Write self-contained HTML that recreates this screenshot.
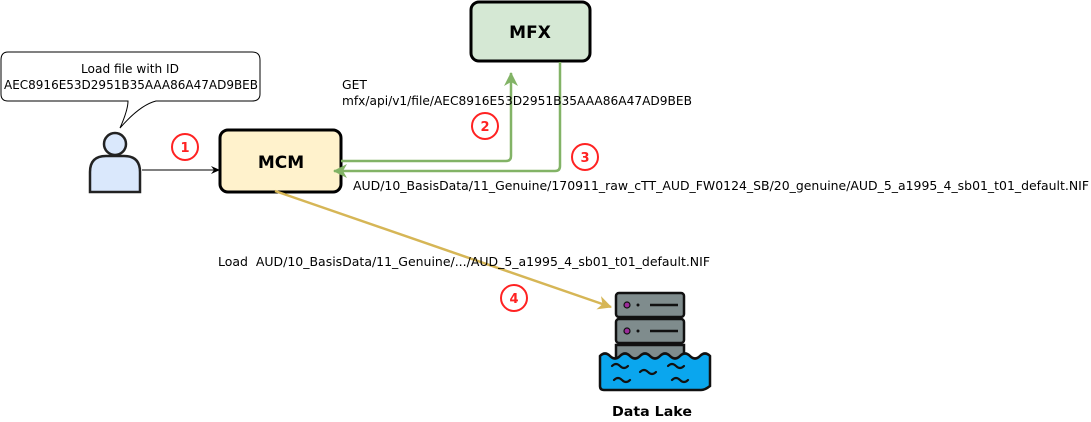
<!DOCTYPE html>
<html><head><meta charset="utf-8"><style>
html,body{margin:0;padding:0;background:#fff;width:1091px;height:422px;overflow:hidden}
text{font-family:"DejaVu Sans","Liberation Sans",sans-serif}
</style></head><body>
<svg width="1091" height="422" viewBox="0 0 1091 422" xmlns="http://www.w3.org/2000/svg">
<defs>
<marker id="ab" markerWidth="10" markerHeight="10" refX="8" refY="5" orient="auto" markerUnits="userSpaceOnUse"><path d="M0,1 L9,5 L0,9 L3,5 Z" fill="#000"/></marker>
<marker id="ag" markerWidth="16" markerHeight="16" refX="13" refY="8" orient="auto" markerUnits="userSpaceOnUse"><path d="M0,1 L14,8 L0,15 L4,8 Z" fill="#82b366"/></marker>
<marker id="ay" markerWidth="16" markerHeight="16" refX="13" refY="8" orient="auto" markerUnits="userSpaceOnUse"><path d="M0,1 L14,8 L0,15 L4,8 Z" fill="#d6b656"/></marker>
</defs>
<path d="M8,52 H252 Q260,52 260,60 V94 Q260,101 252,101 H156 Q140,105 120,128 Q128,110 128,101 H8 Q1,101 1,94 V60 Q1,52 8,52 Z" fill="#fff" stroke="#000" stroke-width="1"/>
<text x="81" y="73" font-size="12" textLength="98" lengthAdjust="spacingAndGlyphs">Load file with ID</text>
<text x="4" y="89" font-size="12" textLength="254" lengthAdjust="spacingAndGlyphs">AEC8916E53D2951B35AAA86A47AD9BEB</text>
<circle cx="115" cy="144" r="11" fill="#dae8fc" stroke="#222" stroke-width="2.5"/>
<path d="M90,192 V172 Q90,156 106,156 H124 Q140,156 140,172 V192 Z" fill="#dae8fc" stroke="#222" stroke-width="2.5"/>
<line x1="142" y1="170" x2="219" y2="170" stroke="#000" stroke-width="1" marker-end="url(#ab)"/>
<circle cx="185" cy="147" r="13" fill="#fff" stroke="#f22" stroke-width="2"/>
<text x="185" y="152" font-size="13" font-weight="bold" text-anchor="middle" fill="#f22">1</text>
<rect x="220" y="130" width="121" height="62" rx="8" fill="#fff2cc" stroke="#000" stroke-width="3"/>
<text x="281" y="168" font-size="17" font-weight="bold" text-anchor="middle">MCM</text>
<rect x="471" y="2" width="119" height="59" rx="8" fill="#d5e8d4" stroke="#000" stroke-width="3"/>
<text x="530" y="38" font-size="17" font-weight="bold" text-anchor="middle">MFX</text>
<path d="M341,161 H506 Q511,161 511,156 V73" fill="none" stroke="#82b366" stroke-width="2.5" marker-end="url(#ag)"/>
<circle cx="485" cy="126" r="13" fill="#fff" stroke="#f22" stroke-width="2"/>
<text x="485" y="131" font-size="13" font-weight="bold" text-anchor="middle" fill="#f22">2</text>
<path d="M560,62 V166 Q560,171 555,171 H334" fill="none" stroke="#82b366" stroke-width="2.5" marker-end="url(#ag)"/>
<circle cx="585" cy="157" r="13" fill="#fff" stroke="#f22" stroke-width="2"/>
<text x="585" y="162" font-size="13" font-weight="bold" text-anchor="middle" fill="#f22">3</text>
<text x="342" y="89" font-size="12" textLength="25" lengthAdjust="spacingAndGlyphs">GET</text>
<text x="342" y="105" font-size="12" textLength="350" lengthAdjust="spacingAndGlyphs">mfx/api/v1/file/AEC8916E53D2951B35AAA86A47AD9BEB</text>
<text x="353" y="190" font-size="12" textLength="736" lengthAdjust="spacingAndGlyphs">AUD/10_BasisData/11_Genuine/170911_raw_cTT_AUD_FW0124_SB/20_genuine/AUD_5_a1995_4_sb01_t01_default.NIF</text>
<line x1="275" y1="191" x2="611" y2="307" stroke="#d6b656" stroke-width="2.5" marker-end="url(#ay)"/>
<text x="218" y="266" font-size="12" textLength="492" lengthAdjust="spacingAndGlyphs" xml:space="preserve">Load  AUD/10_BasisData/11_Genuine/.../AUD_5_a1995_4_sb01_t01_default.NIF</text>
<circle cx="514" cy="298" r="13" fill="#fff" stroke="#f22" stroke-width="2"/>
<text x="514" y="303" font-size="13" font-weight="bold" text-anchor="middle" fill="#f22">4</text>
<rect x="616" y="293" width="68" height="24" rx="3" fill="#7f8c8d" stroke="#111" stroke-width="2.5"/>
<circle cx="627" cy="305" r="3" fill="#9b2c9b" stroke="#111" stroke-width="1.2"/>
<circle cx="638" cy="305" r="1.5" fill="#111"/>
<line x1="650" y1="305" x2="678" y2="305" stroke="#111" stroke-width="2.5"/>
<rect x="616" y="319" width="68" height="24" rx="3" fill="#7f8c8d" stroke="#111" stroke-width="2.5"/>
<circle cx="627" cy="331" r="3" fill="#9b2c9b" stroke="#111" stroke-width="1.2"/>
<circle cx="638" cy="331" r="1.5" fill="#111"/>
<line x1="650" y1="331" x2="678" y2="331" stroke="#111" stroke-width="2.5"/>
<rect x="616" y="345" width="68" height="14" fill="#7f8c8d" stroke="#111" stroke-width="2.5"/>
<path d="M600,356 q5,-5 10,0 q5,5 10,0 q5,-5 10,0 q5,5 10,0 q5,-5 10,0 q5,5 10,0 q5,-5 10,0 q5,5 10,0 q5,-5 10,0 q5,5 10,0 q5,-5 10,0 V386 Q705,390 701,390 H604 Q600,390 600,386 Z" fill="#0aa6ee" stroke="#111" stroke-width="2.5"/>
<g fill="none" stroke="#111" stroke-width="2.2" stroke-linecap="round">
<path d="M612,366 q4,-4 8,0 q4,4 8,0"/><path d="M668,366 q4,-4 8,0 q4,4 8,0"/>
<path d="M640,372 q4,-4 8,0 q4,4 8,0"/>
<path d="M614,380 q4,-4 8,0 q4,4 8,0"/><path d="M672,380 q4,-4 8,0 q4,4 8,0"/>
</g>
<text x="612" y="416" font-size="13" font-weight="bold" textLength="80" lengthAdjust="spacingAndGlyphs">Data Lake</text>
</svg>
</body></html>
